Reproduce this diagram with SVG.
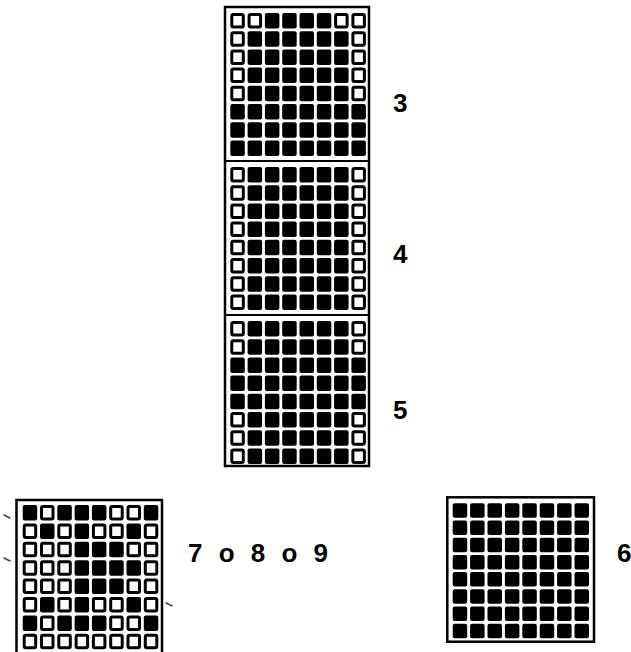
<svg xmlns="http://www.w3.org/2000/svg" xmlns:xlink="http://www.w3.org/1999/xlink" width="631" height="652" viewBox="0 0 631 652">
<style>
.b{fill:#000}
.w{fill:#fff;stroke:#000;stroke-width:3}
.frame{fill:none;stroke:#000;stroke-width:2.5}
.div{stroke:#000;stroke-width:2.2}
.lbl{font-family:"Liberation Sans",Arial,sans-serif;font-weight:bold;font-size:26px;fill:#000}
.mark{stroke:#444;stroke-width:1.5;stroke-linecap:round}
</style>
<defs>
<g id="rB">
<rect class="b" x="0" width="14.5" height="15.5" rx="2"/><rect class="b" x="17.3" width="14.5" height="15.5" rx="2"/><rect class="b" x="34.6" width="14.5" height="15.5" rx="2"/><rect class="b" x="51.9" width="14.5" height="15.5" rx="2"/><rect class="b" x="69.2" width="14.5" height="15.5" rx="2"/><rect class="b" x="86.5" width="14.5" height="15.5" rx="2"/><rect class="b" x="103.8" width="14.5" height="15.5" rx="2"/><rect class="b" x="121.1" width="14.5" height="15.5" rx="2"/>
</g>
<g id="rE">
<rect class="w" x="1.5" y="1.5" width="11.5" height="12.5" rx="1.5"/><rect class="b" x="17.3" width="14.5" height="15.5" rx="2"/><rect class="b" x="34.6" width="14.5" height="15.5" rx="2"/><rect class="b" x="51.9" width="14.5" height="15.5" rx="2"/><rect class="b" x="69.2" width="14.5" height="15.5" rx="2"/><rect class="b" x="86.5" width="14.5" height="15.5" rx="2"/><rect class="b" x="103.8" width="14.5" height="15.5" rx="2"/><rect class="w" x="122.6" y="1.5" width="11.5" height="12.5" rx="1.5"/>
</g>
<g id="rT">
<rect class="w" x="1.5" y="1.5" width="11.5" height="12.5" rx="1.5"/><rect class="w" x="18.8" y="1.5" width="11.5" height="12.5" rx="1.5"/><rect class="b" x="34.6" width="14.5" height="15.5" rx="2"/><rect class="b" x="51.9" width="14.5" height="15.5" rx="2"/><rect class="b" x="69.2" width="14.5" height="15.5" rx="2"/><rect class="b" x="86.5" width="14.5" height="15.5" rx="2"/><rect class="w" x="105.3" y="1.5" width="11.5" height="12.5" rx="1.5"/><rect class="w" x="122.6" y="1.5" width="11.5" height="12.5" rx="1.5"/>
</g>
<g id="L1">
<rect class="b" x="0" width="14.5" height="15.5" rx="2"/><rect class="w" x="18.8" y="1.5" width="11.5" height="12.5" rx="1.5"/><rect class="b" x="34.6" width="14.5" height="15.5" rx="2"/><rect class="b" x="51.9" width="14.5" height="15.5" rx="2"/><rect class="b" x="69.2" width="14.5" height="15.5" rx="2"/><rect class="w" x="88" y="1.5" width="11.5" height="12.5" rx="1.5"/><rect class="w" x="105.3" y="1.5" width="11.5" height="12.5" rx="1.5"/><rect class="b" x="121.1" width="14.5" height="15.5" rx="2"/>
</g>
<g id="L2">
<rect class="w" x="1.5" y="1.5" width="11.5" height="12.5" rx="1.5"/><rect class="b" x="17.3" width="14.5" height="15.5" rx="2"/><rect class="w" x="36.1" y="1.5" width="11.5" height="12.5" rx="1.5"/><rect class="b" x="51.9" width="14.5" height="15.5" rx="2"/><rect class="w" x="70.7" y="1.5" width="11.5" height="12.5" rx="1.5"/><rect class="w" x="88" y="1.5" width="11.5" height="12.5" rx="1.5"/><rect class="b" x="103.8" width="14.5" height="15.5" rx="2"/><rect class="w" x="122.6" y="1.5" width="11.5" height="12.5" rx="1.5"/>
</g>
<g id="L3">
<rect class="w" x="1.5" y="1.5" width="11.5" height="12.5" rx="1.5"/><rect class="w" x="18.8" y="1.5" width="11.5" height="12.5" rx="1.5"/><rect class="w" x="36.1" y="1.5" width="11.5" height="12.5" rx="1.5"/><rect class="b" x="51.9" width="14.5" height="15.5" rx="2"/><rect class="b" x="69.2" width="14.5" height="15.5" rx="2"/><rect class="b" x="86.5" width="14.5" height="15.5" rx="2"/><rect class="w" x="105.3" y="1.5" width="11.5" height="12.5" rx="1.5"/><rect class="w" x="122.6" y="1.5" width="11.5" height="12.5" rx="1.5"/>
</g>
<g id="L4">
<rect class="w" x="1.5" y="1.5" width="11.5" height="12.5" rx="1.5"/><rect class="w" x="18.8" y="1.5" width="11.5" height="12.5" rx="1.5"/><rect class="w" x="36.1" y="1.5" width="11.5" height="12.5" rx="1.5"/><rect class="b" x="51.9" width="14.5" height="15.5" rx="2"/><rect class="b" x="69.2" width="14.5" height="15.5" rx="2"/><rect class="b" x="86.5" width="14.5" height="15.5" rx="2"/><rect class="b" x="103.8" width="14.5" height="15.5" rx="2"/><rect class="w" x="122.6" y="1.5" width="11.5" height="12.5" rx="1.5"/>
</g>
<g id="L8">
<rect class="w" x="1.5" y="1.5" width="11.5" height="12.5" rx="1.5"/><rect class="w" x="18.8" y="1.5" width="11.5" height="12.5" rx="1.5"/><rect class="w" x="36.1" y="1.5" width="11.5" height="12.5" rx="1.5"/><rect class="w" x="53.4" y="1.5" width="11.5" height="12.5" rx="1.5"/><rect class="w" x="70.7" y="1.5" width="11.5" height="12.5" rx="1.5"/><rect class="w" x="88" y="1.5" width="11.5" height="12.5" rx="1.5"/><rect class="w" x="105.3" y="1.5" width="11.5" height="12.5" rx="1.5"/><rect class="w" x="122.6" y="1.5" width="11.5" height="12.5" rx="1.5"/>
</g>
<g id="rB2">
<rect class="b" x="0" width="14.5" height="14.5" rx="2"/><rect class="b" x="17.4" width="14.5" height="14.5" rx="2"/><rect class="b" x="34.8" width="14.5" height="14.5" rx="2"/><rect class="b" x="52.2" width="14.5" height="14.5" rx="2"/><rect class="b" x="69.6" width="14.5" height="14.5" rx="2"/><rect class="b" x="87" width="14.5" height="14.5" rx="2"/><rect class="b" x="104.4" width="14.5" height="14.5" rx="2"/><rect class="b" x="121.8" width="14.5" height="14.5" rx="2"/>
</g>
</defs>
<rect width="631" height="652" fill="#fff"/>

<g id="column-frame">
<rect class="frame" x="225" y="7" width="144" height="459"/>
<line class="div" x1="225" y1="161" x2="369" y2="161"/>
<line class="div" x1="225" y1="315" x2="369" y2="315"/>
</g>

<g id="grid-3" transform="translate(230.3,0)">
<use xlink:href="#rT" href="#rT" y="13"/>
<use xlink:href="#rE" href="#rE" y="31.2"/>
<use xlink:href="#rE" href="#rE" y="49.4"/>
<use xlink:href="#rE" href="#rE" y="67.6"/>
<use xlink:href="#rE" href="#rE" y="85.8"/>
<use xlink:href="#rB" href="#rB" y="104"/>
<use xlink:href="#rB" href="#rB" y="122.2"/>
<use xlink:href="#rB" href="#rB" y="140.4"/>
</g>
<g id="grid-4" transform="translate(230.3,0)">
<use xlink:href="#rE" href="#rE" y="167"/>
<use xlink:href="#rE" href="#rE" y="185.2"/>
<use xlink:href="#rE" href="#rE" y="203.4"/>
<use xlink:href="#rE" href="#rE" y="221.6"/>
<use xlink:href="#rE" href="#rE" y="239.8"/>
<use xlink:href="#rE" href="#rE" y="258"/>
<use xlink:href="#rE" href="#rE" y="276.2"/>
<use xlink:href="#rE" href="#rE" y="294.4"/>
</g>
<g id="grid-5" transform="translate(230.3,0)">
<use xlink:href="#rE" href="#rE" y="321"/>
<use xlink:href="#rE" href="#rE" y="339.2"/>
<use xlink:href="#rB" href="#rB" y="357.4"/>
<use xlink:href="#rB" href="#rB" y="375.6"/>
<use xlink:href="#rB" href="#rB" y="393.8"/>
<use xlink:href="#rE" href="#rE" y="412"/>
<use xlink:href="#rE" href="#rE" y="430.2"/>
<use xlink:href="#rE" href="#rE" y="448.4"/>
</g>

<g id="grid-789">
<rect class="frame" x="16.5" y="500" width="145.5" height="154"/>
<g transform="translate(22.7,0)">
<use xlink:href="#L1" href="#L1" y="505"/>
<use xlink:href="#L2" href="#L2" y="523.4"/>
<use xlink:href="#L3" href="#L3" y="541.8"/>
<use xlink:href="#L4" href="#L4" y="560.2"/>
<use xlink:href="#L3" href="#L3" y="578.6"/>
<use xlink:href="#L2" href="#L2" y="597"/>
<use xlink:href="#L1" href="#L1" y="615.4"/>
<use xlink:href="#L8" href="#L8" y="633.8"/>
</g>
</g>

<g id="grid-6">
<rect class="frame" x="447.3" y="497.3" width="146.7" height="144.4"/>
<g transform="translate(452.7,0)">
<use xlink:href="#rB2" href="#rB2" y="503.3"/>
<use xlink:href="#rB2" href="#rB2" y="520.5"/>
<use xlink:href="#rB2" href="#rB2" y="537.7"/>
<use xlink:href="#rB2" href="#rB2" y="554.9"/>
<use xlink:href="#rB2" href="#rB2" y="572.1"/>
<use xlink:href="#rB2" href="#rB2" y="589.3"/>
<use xlink:href="#rB2" href="#rB2" y="606.5"/>
<use xlink:href="#rB2" href="#rB2" y="623.7"/>
</g>
</g>

<g id="labels">
<text class="lbl" x="393" y="112">3</text>
<text class="lbl" x="393" y="263">4</text>
<text class="lbl" x="393" y="419">5</text>
<text class="lbl" x="188" y="562" word-spacing="9">7 o 8 o 9</text>
<text class="lbl" x="617" y="562">6</text>
</g>

<g id="marks">
<line class="mark" x1="4" y1="515" x2="10" y2="518"/>
<line class="mark" x1="4" y1="558" x2="10" y2="561"/>
<line class="mark" x1="166" y1="603" x2="172" y2="606"/>
</g>

<g id="connectors"/>
</svg>
